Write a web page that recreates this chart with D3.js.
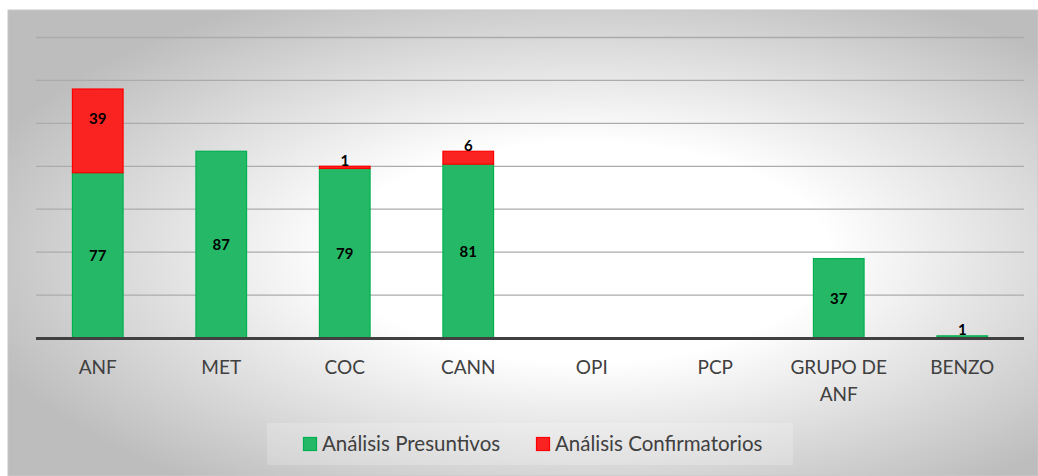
<!DOCTYPE html>
<html><head><meta charset="utf-8">
<script src="https://cdn.jsdelivr.net/npm/d3@7"></script>
<style>body{margin:0;background:#fff}svg{display:block}</style>
</head><body><div id="chart"></div>
<script>
const categories = ["ANF","MET","COC","CANN","OPI","PCP","GRUPO DE ANF","BENZO"];
const presuntivos = [77,87,79,81,0,0,37,1];
const confirmatorios = [39,0,1,6,0,0,0,0];
const seriesNames = ["Análisis Presuntivos","Análisis Confirmatorios"];
const yTicks = [0,20,40,60,80,100,120,140];

const W=1038,H=476;
const m={left:36,right:14,top:37.5,bottom:138};
const svg=d3.select("#chart").append("svg").attr("width",W).attr("height",H);
const defs=svg.append("defs");
const rg=defs.append("radialGradient").attr("id","bg").attr("cx","0.56").attr("cy","0.52").attr("r","0.62");
rg.append("stop").attr("offset","0").attr("stop-color","#ffffff");
rg.append("stop").attr("offset","0.38").attr("stop-color","#ffffff");
rg.append("stop").attr("offset","1").attr("stop-color","#bdbdbd");
svg.append("rect").attr("x",8).attr("y",10).attr("width",W-8).attr("height",H-10)
  .attr("fill","url(#bg)").attr("stroke","#c8c8c8").attr("stroke-width",1);

const x=d3.scaleBand().domain(categories).range([m.left,W-m.right]).paddingInner(0.59).paddingOuter(0.295);
const y=d3.scaleLinear().domain([0,140]).range([338,37.5]);

// gridlines
svg.append("g").selectAll("line").data(yTicks.filter(d=>d>0)).join("line")
  .attr("x1",m.left).attr("x2",W-m.right).attr("y1",d=>y(d)).attr("y2",d=>y(d))
  .attr("stroke","#ababab").attr("stroke-width",1.3);

const stacked=d3.stack().keys([0,1]).value((d,k)=>d[k])(categories.map((c,i)=>[presuntivos[i],confirmatorios[i]]));
const colors=["#25b967","#fb2222"], strokes=["#00b050","#ff0000"];
stacked.forEach((s,k)=>{
  svg.append("g").selectAll("rect").data(s.map((d,i)=>({d,i}))).join("rect")
    .filter(o=>o.d[1]-o.d[0]>0)
    .attr("x",o=>x(categories[o.i])).attr("width",x.bandwidth())
    .attr("y",o=>y(o.d[1])).attr("height",o=>y(o.d[0])-y(o.d[1]))
    .attr("fill",colors[k]).attr("stroke",strokes[k]).attr("stroke-width",1.2);
});

// axis line
svg.append("line").attr("x1",m.left).attr("x2",W-m.right).attr("y1",y(0)+0.5).attr("y2",y(0)+0.5)
  .attr("stroke","#404040").attr("stroke-width",3);

// data labels
stacked.forEach((s,k)=>{
  s.forEach((d,i)=>{
    const v=d[1]-d[0]; if(v<=0) return;
    const top=y(d[1]), bot=y(d[0]), h=bot-top;
    let ty;
    if(h<20) ty=top-0.5;
    else if(k===1) ty=top+34.5;
    else ty=(top+bot)/2+5.5;
    svg.append("text").attr("x",x(categories[i])+x.bandwidth()/2).attr("y",ty)
      .attr("text-anchor","middle").attr("font-family","Lato, 'Open Sans', sans-serif")
      .attr("font-weight","bold").attr("font-size",15).attr("fill","#000").text(v);
  });
});

// category labels
const xl=svg.append("g");
categories.forEach(c=>{
  const t=xl.append("text").attr("x",x(c)+x.bandwidth()/2).attr("y",373.5)
    .attr("text-anchor","middle").attr("font-family","Lato, 'Open Sans', sans-serif")
    .attr("font-size",19).attr("fill","#404040");
  const words=c.split(" "); let line=[]; let lines=[];
  const tmp=t.append("tspan");
  words.forEach(w=>{ line.push(w); tmp.text(line.join(" "));
    if(tmp.node().getComputedTextLength()>x.step()*0.85 && line.length>1){ line.pop(); lines.push(line.join(" ")); line=[w]; }});
  lines.push(line.join(" ")); tmp.remove();
  lines.forEach((l,j)=>t.append("tspan").attr("x",x(c)+x.bandwidth()/2).attr("dy",j?27:0).text(l));
});

// legend
const lg=svg.append("g");
lg.append("rect").attr("x",267).attr("y",423).attr("width",526).attr("height",42).attr("fill","#ffffff").attr("opacity",0.2);
const legX=[303,536];
seriesNames.forEach((n,k)=>{
  lg.append("rect").attr("x",legX[k]+0.5).attr("y",437.5).attr("width",13).attr("height",13)
    .attr("fill",colors[k]).attr("stroke",strokes[k]).attr("stroke-width",1.2);
  lg.append("text").attr("x",legX[k]+19).attr("y",451).attr("font-family","Lato, 'Open Sans', sans-serif")
    .attr("font-size",20.5).attr("fill","#404040").text(n);
});
</script></body></html>
